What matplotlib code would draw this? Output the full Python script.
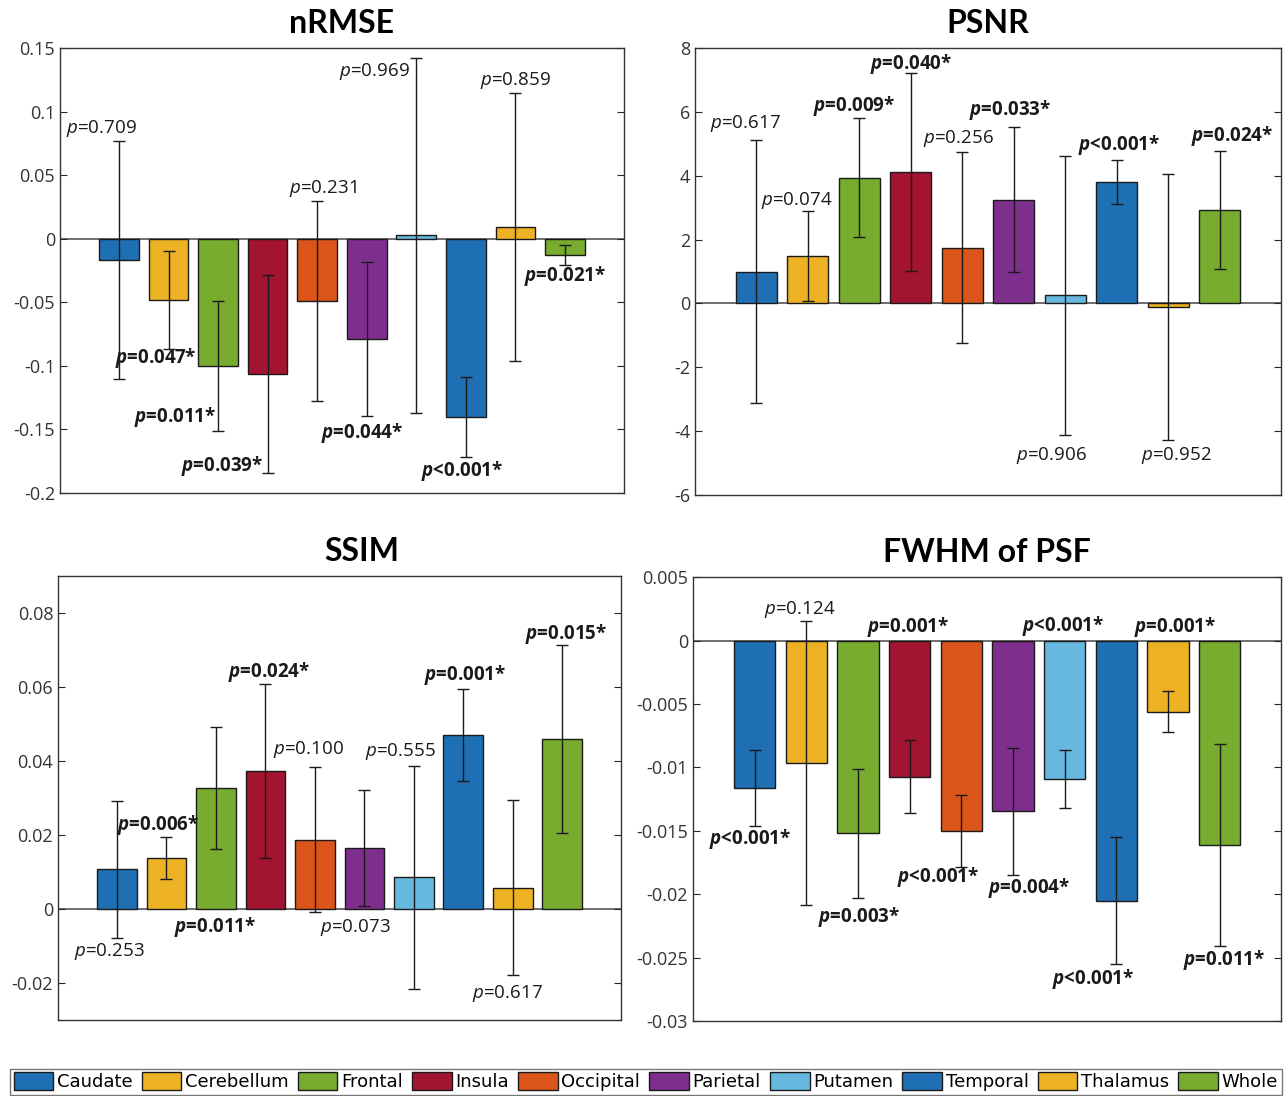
import numpy as np
import matplotlib.pyplot as plt
from matplotlib.patches import Patch
from matplotlib.ticker import FuncFormatter

plt.rcParams['font.family'] = ['Open Sans', 'DejaVu Sans']
plt.rcParams['mathtext.fontset'] = 'custom'
plt.rcParams['mathtext.rm'] = 'Open Sans'
plt.rcParams['mathtext.it'] = 'Open Sans:italic'
plt.rcParams['mathtext.bf'] = 'Open Sans:bold'
plt.rcParams['mathtext.bfit'] = 'Open Sans:italic:bold'

regions = ['Caudate', 'Cerebellum', 'Frontal', 'Insula', 'Occipital',
           'Parietal', 'Putamen', 'Temporal', 'Thalamus', 'Whole']
colors = ['#1f6fb4', '#edb223', '#77ac2f', '#a2142f', '#db5419',
          '#7e2f8e', '#66b8de', '#1f6fb4', '#edb223', '#77ac2f']

# nRMSE
nrmse_mean = [-0.0165, -0.0484, -0.100, -0.1065, -0.049, -0.079, 0.0026, -0.140, 0.009, -0.0126]
nrmse_err = [0.0935, 0.0385, 0.051, 0.078, 0.079, 0.0605, 0.1395, 0.0315, 0.1055, 0.0078]
nrmse_p = ['=0.709', '=0.047*', '=0.011*', '=0.039*', '=0.231',
           '=0.044*', '=0.969', '<0.001*', '=0.859', '=0.021*']

# PSNR
psnr_mean = [0.99, 1.49, 3.94, 4.12, 1.75, 3.25, 0.25, 3.80, -0.12, 2.93]
psnr_err = [4.12, 1.40, 1.86, 3.09, 2.98, 2.28, 4.38, 0.69, 4.17, 1.85]
psnr_p = ['=0.617', '=0.074', '=0.009*', '=0.040*', '=0.256',
          '=0.033*', '=0.906', '<0.001*', '=0.952', '=0.024*']

# SSIM
ssim_mean = [0.0107, 0.0138, 0.0328, 0.0373, 0.0188, 0.0166, 0.0086, 0.0471, 0.0058, 0.0461]
ssim_err = [0.0184, 0.0058, 0.0165, 0.0235, 0.0196, 0.0157, 0.0301, 0.0125, 0.0236, 0.0254]
ssim_p = ['=0.253', '=0.006*', '=0.011*', '=0.024*', '=0.100',
          '=0.073', '=0.555', '=0.001*', '=0.617', '=0.015*']

# FWHM of PSF
fwhm_mean = [-0.01163, -0.00962, -0.0152, -0.01072, -0.01502,
             -0.01347, -0.01093, -0.02052, -0.00561, -0.01612]
fwhm_err = [0.0030, 0.0112, 0.0051, 0.0029, 0.00285, 0.0050, 0.0023, 0.0050, 0.0016, 0.0080]
fwhm_p = ['<0.001*', '=0.124', '=0.003*', '=0.001*', '<0.001*',
          '=0.004*', '<0.001*', '<0.001*', '=0.001*', '=0.011*']

# label placement: side of the error bar (u/d), x shift (bar units), y shift (points)
nrmse_side = ['u', 'd', 'd', 'd', 'u', 'd', 'u', 'd', 'u', 'd']
nrmse_dx = [-0.35, -0.26, -0.87, -0.92, 0.12, -0.09, -0.85, -0.08, 0.0, 0.0]
nrmse_dy = [9, -6.5, 10, 5.5, 9, -12, -10, -10, 9, -8]

psnr_side = ['u', 'u', 'u', 'u', 'u', 'u', 'd', 'u', 'd', 'u']
psnr_dx = [-0.22, -0.22, -0.1, 0.0, -0.07, -0.06, -0.27, 0.05, 0.16, 0.25]
psnr_dy = [12, 7.8, 9, 6.5, 10, 12, -14.5, 11, -10.8, 10.6]

ssim_side = ['d', 'u', 'd', 'u', 'u', 'd', 'u', 'u', 'd', 'u']
ssim_dx = [-0.15, -0.17, -0.02, 0.07, -0.12, -0.18, -0.28, 0.03, -0.1, 0.07]
ssim_dy = [-10, 8.3, -13, 8.8, 12.5, -13.6, 10.7, 10, -13.6, 7.7]

fwhm_side = ['d', 'u', 'd', 'u', 'd', 'd', 'u', 'd', 'u', 'd']
fwhm_dx = [-0.08, -0.13, 0.02, -0.03, -0.45, 0.32, -0.03, -0.45, 0.14, 0.08]
fwhm_dy = [-9.5, 7.8, -13.6, 10, -6.8, -9.6, 10.5, -10.7, 10, -9.4]


def fmt(v, pos):
    return '%g' % (round(v, 6) + 0.0)


def draw_panel(ax, title, mean, err, pvals, side, dx, dy, ylim, yticks, title_x=0.5):
    x = np.arange(1, 11)
    mean = np.array(mean)
    err = np.array(err)
    ax.bar(x, mean, width=0.8, color=colors, edgecolor='#1a1a1a', linewidth=1.0, zorder=2)
    ax.axhline(0, color='#555555', lw=1.2, zorder=1.5)
    ax.errorbar(x, mean, yerr=err, fmt='none', ecolor='#1a1a1a', elinewidth=1.0,
                capsize=4, capthick=1.0, zorder=3)
    for i in range(10):
        hi = max(0, mean[i] + err[i])
        lo = min(0, mean[i] - err[i])
        y0 = hi if side[i] == 'u' else lo
        sig = pvals[i].endswith('*')
        txt = (r'$\mathbfit{p}$' if sig else r'$\mathit{p}$') + pvals[i]
        ax.annotate(txt, (x[i] + dx[i], y0), xytext=(0, dy[i]), textcoords='offset points',
                    ha='center', va='center', fontsize=13.5, color='#1a1a1a',
                    fontweight='bold' if sig else 'normal')
    ax.set_xlim(1 - 1.19, 10 + 1.19)
    ax.set_ylim(*ylim)
    ax.set_yticks(yticks)
    ax.yaxis.set_major_formatter(FuncFormatter(fmt))
    ax.set_xticks([])
    ax.tick_params(axis='y', direction='in', right=True, length=5, labelsize=13,
                   colors='#262626', labelcolor='#333333')
    for s in ax.spines.values():
        s.set_color('#333333')
        s.set_linewidth(1.0)
    ax.set_title(title, fontsize=23, fontweight='bold', pad=11, x=title_x,
                 family=['Lato', 'DejaVu Sans'])


fig = plt.figure(figsize=(12.87, 10.96), dpi=100)
ax1 = fig.add_axes([0.0466, 0.5502, 0.4382, 0.406])
ax2 = fig.add_axes([0.5400, 0.5484, 0.4553, 0.4078])
ax3 = fig.add_axes([0.0451, 0.0693, 0.4375, 0.405])
ax4 = fig.add_axes([0.5385, 0.0684, 0.4569, 0.405])

draw_panel(ax1, 'nRMSE', nrmse_mean, nrmse_err, nrmse_p, nrmse_side, nrmse_dx, nrmse_dy,
           (-0.2, 0.15), np.arange(-0.2, 0.151, 0.05))
draw_panel(ax2, 'PSNR', psnr_mean, psnr_err, psnr_p, psnr_side, psnr_dx, psnr_dy,
           (-6, 8), np.arange(-6, 8.1, 2))
draw_panel(ax3, 'SSIM', ssim_mean, ssim_err, ssim_p, ssim_side, ssim_dx, ssim_dy,
           (-0.03, 0.09), np.arange(-0.02, 0.081, 0.02), title_x=0.54)
draw_panel(ax4, 'FWHM of PSF', fwhm_mean, fwhm_err, fwhm_p, fwhm_side, fwhm_dx, fwhm_dy,
           (-0.03, 0.005), np.arange(-0.03, 0.0051, 0.005))

handles = [Patch(facecolor=c, edgecolor='#1a1a1a', linewidth=1.0) for c in colors]
leg = fig.legend(handles, regions, loc='lower left', ncol=10, mode='expand',
                 bbox_to_anchor=(0.0078, 0.001, 0.988, 0.026), frameon=True, fancybox=False,
                 prop={'family': 'DejaVu Sans', 'size': 13},
                 handlelength=2.2, handleheight=1.1, handletextpad=0.2, columnspacing=0.3,
                 borderpad=0.2, borderaxespad=0)
leg.get_frame().set_edgecolor('#555555')
leg.get_frame().set_linewidth(1.0)

fig.savefig('out.png', dpi=100)
